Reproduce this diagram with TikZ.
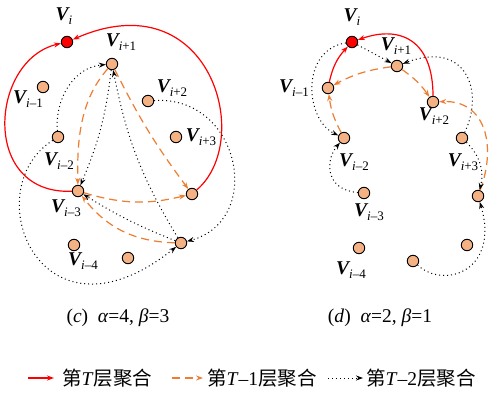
\documentclass[tikz,border=0pt]{standalone}
\usepackage{fontspec}
\setmainfont{Liberation Serif}
\newfontfamily\cjk{Noto Sans CJK SC}
\usetikzlibrary{arrows.meta}
\definecolor{nodeorange}{RGB}{244,177,131}
\definecolor{dashorange}{RGB}{237,125,49}
\definecolor{vred}{RGB}{255,0,0}
\newcommand\Vsub[1]{{\fontsize{19.5}{19.5}\selectfont\bfseries\itshape V}\raisebox{-4pt}{\fontsize{13}{13}\selectfont\itshape #1}}
\begin{document}
\begin{tikzpicture}[x=1pt,y=-1pt,
 vtx/.style={circle,draw=black,line width=0.9pt,fill=nodeorange,minimum size=11.5pt,inner sep=0pt},
 rootvtx/.style={vtx,fill=vred},
 lab/.style={inner sep=0pt,anchor=center},
 redarr/.style={draw=vred,line width=1.2pt,-{Stealth[length=7pt,width=5pt]}},
 orarr/.style={draw=dashorange,line width=1.2pt,dash pattern=on 8pt off 5pt,-{Stealth[length=7pt,width=5pt]}},
 dotarr/.style={draw=black,line width=1pt,dash pattern=on 1pt off 3pt,-{Stealth[length=7pt,width=5pt]}},
 captxt/.style={font=\fontsize{19.5}{19.5}\selectfont,anchor=center,inner sep=0pt},
]
\useasboundingbox (0,0) rectangle (493,393);

% ---------- panel (c) ----------
\node[rootvtx] (c-vi) at (67,42) {};
\node[vtx] (c-p1) at (112,64) {};
\node[vtx] (c-m1) at (43,87) {};
\node[vtx] (c-p2) at (148,101) {};
\node[vtx] (c-m2) at (58,137) {};
\node[vtx] (c-p3) at (176,137) {};
\node[vtx] (c-m3) at (78,191) {};
\node[vtx] (c-r) at (192,194) {};
\node[vtx] (c-br) at (181,243) {};
\node[vtx] (c-m4) at (74,245) {};
\node[vtx] (c-b) at (128,258) {};

\node[lab] (lc-vi) at (64,16) {\Vsub{i}};
\node[lab] (lc-p1) at (121,42) {\Vsub{i{\upshape+1}}};
\node[lab] (lc-m1) at (28,99) {\Vsub{i{\upshape–1}}};
\node[lab] (lc-p2) at (172,88) {\Vsub{i{\upshape+2}}};
\node[lab] (lc-p3) at (201,137) {\Vsub{i{\upshape+3}}};
\node[lab] (lc-m2) at (59,161) {\Vsub{i{\upshape–2}}};
\node[lab] (lc-m3) at (66,208) {\Vsub{i{\upshape–3}}};
\node[lab] (lc-m4) at (83,261) {\Vsub{i{\upshape–4}}};

% red
\draw[redarr] (c-m3) .. controls (-20,195) and (-10,60) .. (c-vi);
\draw[redarr] (c-r) .. controls (255,140) and (210,-20) .. (c-vi);
% orange
\draw[orarr] (c-p1) .. controls (80,100) and (77,140) .. (c-m3);
\draw[orarr] (c-p1) to[bend right=5] (c-r);
\draw[orarr] (c-m3) to[bend right=15] (c-r);
\draw[orarr] (c-br) to[bend left=25] (c-m3);
% dotted
\draw[dotarr] (c-m2) to[out=95,in=185] (c-p1);
\draw[dotarr] (c-p1) to[bend left=8] (c-m3);
\draw[dotarr] (c-br) to[bend left=10] (c-p1);
\draw[dotarr] (c-br) to[bend left=5] (c-m3);
\draw[dotarr] (c-p2) .. controls (240,95) and (265,220) .. (c-br);
\draw[dotarr] (c-m2) .. controls (-25,190) and (40,355) .. (c-br);

% ---------- panel (d) ----------
\node[rootvtx] (d-vi) at (352,42) {};
\node[vtx] (d-p1) at (397,66) {};
\node[vtx] (d-m1) at (328,88) {};
\node[vtx] (d-p2) at (433,102) {};
\node[vtx] (d-m2) at (344,138) {};
\node[vtx] (d-p3) at (462,138) {};
\node[vtx] (d-m3) at (364,193) {};
\node[vtx] (d-r) at (478,196) {};
\node[vtx] (d-br) at (467,245) {};
\node[vtx] (d-m4) at (359,248) {};
\node[vtx] (d-b) at (413,261) {};

\node[lab] (ld-vi) at (352,17) {\Vsub{i}};
\node[lab] (ld-p1) at (396,46) {\Vsub{i{\upshape+1}}};
\node[lab] (ld-m1) at (294,88) {\Vsub{i{\upshape–1}}};
\node[lab] (ld-p2) at (434,116) {\Vsub{i{\upshape+2}}};
\node[lab] (ld-m2) at (354,162) {\Vsub{i{\upshape–2}}};
\node[lab] (ld-p3) at (463,162) {\Vsub{i{\upshape+3}}};
\node[lab] (ld-m3) at (369,212) {\Vsub{i{\upshape–3}}};
\node[lab] (ld-m4) at (351,270) {\Vsub{i{\upshape–4}}};

% red
\draw[redarr] (d-m1) to[bend left=15] (d-vi);
\draw[redarr] (d-p2) .. controls (433,40) and (400,25) .. (d-vi);
% orange
\draw[orarr] (d-p1) to[bend right=10] (d-m1);
\draw[orarr] (d-p1) to[bend left=10] (d-p2);
\draw[orarr] (d-m2) to[bend left=10] (d-m1);
\draw[orarr] (d-r) .. controls (497,145) and (485,100) .. (d-p2);
% dotted
\draw[dotarr] (d-vi) -- (d-p1);
\draw[dotarr] (d-p3) .. controls (485,90) and (465,40) .. (d-p1);
\draw[dotarr] (d-vi) .. controls (300,50) and (305,120) .. (d-m2);
\draw[dotarr] (d-m3) .. controls (325,190) and (325,160) .. (d-m2);
\draw[dotarr] (d-p3) to[bend left=30] (d-r);
\draw[dotarr] (d-b) .. controls (445,290) and (500,270) .. (d-r);

% ---------- captions ----------
\node[captxt] (capc) at (118,318) {(\textit{c})\ \ \textit{α}=4, \textit{β}=3};
\node[captxt] (capd) at (380,318) {(\textit{d})\ \ \textit{α}=2, \textit{β}=1};

% ---------- legend ----------
\coordinate (l1a) at (28,378); \coordinate (l1b) at (54,378);
\coordinate (l2a) at (172,378); \coordinate (l2b) at (203,378);
\coordinate (l3a) at (328,378); \coordinate (l3b) at (363,378);
\draw[redarr] (l1a) -- (l1b);
\draw[orarr] (l2a) -- (l2b);
\draw[dotarr] (l3a) -- (l3b);
\node[captxt,anchor=west] (t1) at (62,378) {{\cjk 第}\textit{T}{\cjk 层聚合}};
\node[captxt,anchor=west] (t2) at (207,378) {{\cjk 第}\textit{T}–1{\cjk 层聚合}};
\node[captxt,anchor=west] (t3) at (366,378) {{\cjk 第}\textit{T}–2{\cjk 层聚合}};
\end{tikzpicture}
\end{document}
